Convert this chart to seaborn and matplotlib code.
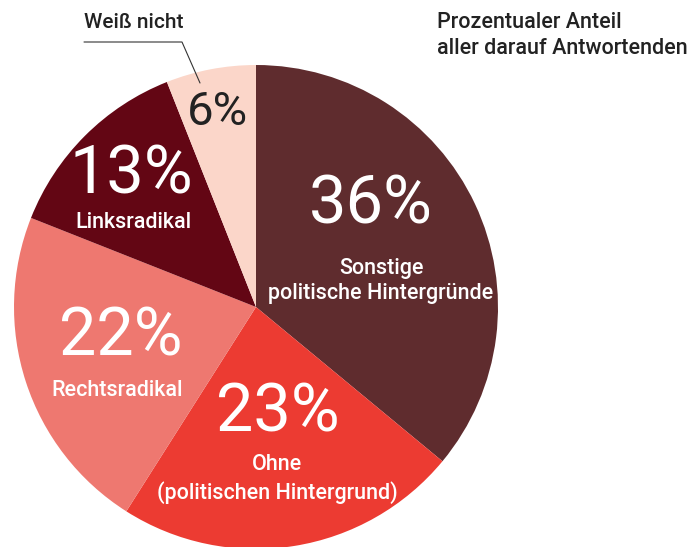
import matplotlib
matplotlib.use("Agg")
import matplotlib.pyplot as plt
import seaborn as sns

categories = ["Sonstige\npolitische Hintergründe", "Ohne\n(politischen Hintergrund)",
              "Rechtsradikal", "Linksradikal", "Weiß nicht"]
values = [36, 23, 22, 13, 6]
pct_labels = ["36%", "23%", "22%", "13%", "6%"]
colors = ["#5f2c2e", "#ec3b32", "#ee7870", "#630614", "#fbd6c9"]
title_lines = ["Prozentualer Anteil", "aller darauf Antwortenden"]

sns.set_theme(style="white")
plt.rcParams["font.family"] = ["Roboto", "DejaVu Sans"]

W, H = 693, 547
fig = plt.figure(figsize=(W / 100, H / 100), dpi=100)
ax = fig.add_axes([0, 0, 1, 1])

cx, cy, r = 256, H - 307, 242
ax.pie(values, colors=colors, startangle=90, counterclock=False,
       center=(cx, cy), radius=r, frame=True,
       wedgeprops=dict(linewidth=0))
ax.set_xlim(0, W)
ax.set_ylim(0, H)
ax.set_aspect("equal")
ax.axis("off")

def P(x, y):
    return x, H - y

big = dict(ha="center", va="center", color="white", fontsize=48)
small = dict(ha="center", va="center", color="white", fontsize=15.5,
             fontweight="medium", linespacing=1.3)
ax.text(*P(371, 206), pct_labels[0], **big)
ax.text(*P(381, 281), categories[0], **small)
ax.text(*P(278, 414), pct_labels[1], **big)
ax.text(*P(277, 479), categories[1], **small)
ax.text(*P(121, 338), pct_labels[2], **big)
ax.text(*P(117, 390), categories[2], **small)
ax.text(*P(131, 175), pct_labels[3], **big)
ax.text(*P(133, 222), categories[3], **small)
ax.text(*P(217, 112), pct_labels[4], ha="center", va="center", color="#222222", fontsize=34)

ax.text(*P(84, 22), categories[4], ha="left", va="center", color="#222222",
        fontsize=15, fontweight="medium")
ax.plot([84, 182, 200], [H - 42, H - 42, H - 83], color="#333333", linewidth=0.8)

ax.text(*P(437, 22), title_lines[0], ha="left", va="center", color="#222222",
        fontsize=15.5, fontweight="medium")
ax.text(*P(437, 48), title_lines[1], ha="left", va="center", color="#222222",
        fontsize=15.5, fontweight="medium")

fig.savefig("out.png", dpi=100)
